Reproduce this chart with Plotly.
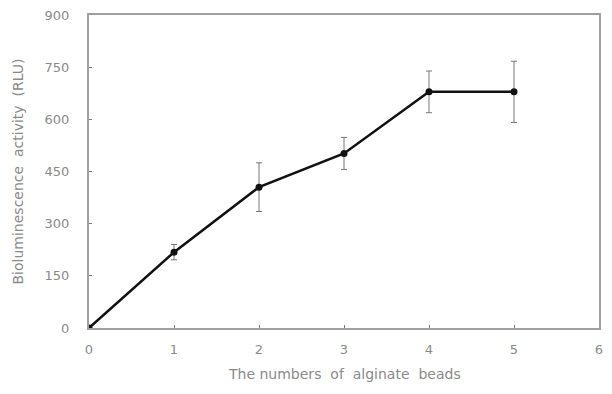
import plotly.graph_objects as go

beads = [0, 1, 2, 3, 4, 5]
activity = [0, 218, 405, 502, 679, 679]
errors = [0, 22, 70, 46, 60, 88]

x_ticks = [0, 1, 2, 3, 4, 5, 6]
y_ticks = [0, 150, 300, 450, 600, 750, 900]

FONT = "DejaVu Sans, Verdana, sans-serif"
TITLE_FONT = dict(family=FONT, size=14, color="#8a8a8a")

fig = go.Figure()
fig.add_trace(go.Scatter(
    x=beads, y=activity, mode="lines+markers",
    line=dict(color="#111111", width=2.5),
    marker=dict(color="#111111", size=7),
    error_y=dict(type="data", array=errors, visible=True, color="#777777",
                 thickness=1, width=3),
    showlegend=False,
))

axis_common = dict(
    showline=True, linecolor="#a0a0a0", linewidth=2, mirror=True,
    showgrid=False, zeroline=False, ticks="inside", ticklen=3,
    tickcolor="#777777", tickwidth=1, automargin=False,
    ticklabeloverflow="allow",
    tickfont=dict(family=FONT, size=13, color="#8a8a8a"),
)

# the page body adds an 8px margin, so the figure is sized to fit the window
fig.update_layout(
    width=596, height=376,
    margin=dict(l=81, r=5, t=7, b=56),
    paper_bgcolor="white", plot_bgcolor="white",
    xaxis=dict(range=[0, 6], tickvals=x_ticks, ticklabelstandoff=8, **axis_common),
    yaxis=dict(range=[0, 900], tickvals=y_ticks, ticklabelstandoff=15, **axis_common),
    annotations=[
        dict(text="Bioluminescence  activity  (RLU)", textangle=-90,
             xref="paper", yref="paper", x=0, y=0.5, xanchor="center", yanchor="middle",
             xshift=-72, showarrow=False, font=TITLE_FONT),
        dict(text="The numbers  of  alginate  beads",
             xref="paper", yref="paper", x=0.5, y=0, xanchor="center", yanchor="middle",
             yshift=-46, showarrow=False, font=TITLE_FONT),
    ],
)

fig.write_html("out.html")
